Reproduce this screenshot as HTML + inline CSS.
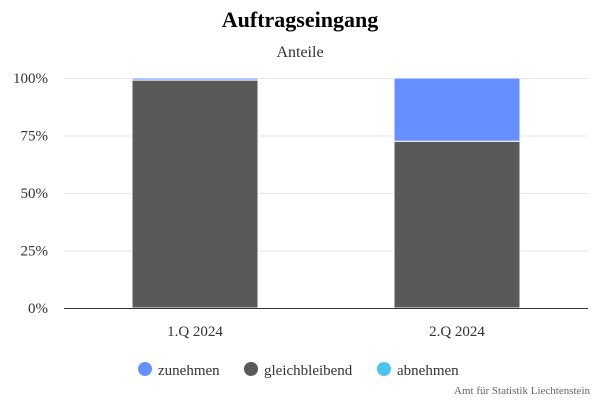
<!DOCTYPE html>
<html><head><meta charset="utf-8"><style>
body{margin:0;background:#fff;font-family:"Liberation Serif",serif;}
svg text{font-family:"Liberation Serif",serif;}
</style></head><body>
<svg width="600" height="400" viewBox="0 0 600 400">
<text x="300" y="27" text-anchor="middle" font-size="22" font-weight="bold" fill="#000">Auftragseingang</text>
<text x="300" y="57" text-anchor="middle" font-size="16" fill="#333">Anteile</text>
<g id="grid"></g>
<g id="bars"></g>
<line x1="64" x2="588" y1="308.5" y2="308.5" stroke="#333" stroke-width="1"/>
<g id="xlabels"></g>
<g>
<g><circle cx="145" cy="369" r="7" fill="#6690ff"/><text x="158" y="375" font-size="15" fill="#333">zunehmen</text></g>
<g><circle cx="251" cy="369" r="7" fill="#595959"/><text x="264" y="375" font-size="15" fill="#333">gleichbleibend</text></g>
<g><circle cx="384" cy="369" r="7" fill="#4cc3f0"/><text x="397" y="375" font-size="15" fill="#333">abnehmen</text></g>
</g>
<text x="590" y="394" text-anchor="end" font-size="11" fill="#666">Amt für Statistik Liechtenstein</text>
</svg>
<script>
const categories=["1.Q 2024","2.Q 2024"];
const gleichbleibend=[99.1,72.5];
const zunehmen=[0.9,27.5];
const abnehmen=[0,0];
const yTicks=[0,25,50,75,100];
const NS="http://www.w3.org/2000/svg";
const x0=64,x1=588,yB=308,yT=78;
const y=v=>yB-(yB-yT)*v/100;
const band=(x1-x0)/categories.length;
const bw=126;
const grid=document.getElementById('grid'),bars=document.getElementById('bars'),xl=document.getElementById('xlabels');
function mk(t,a){const e=document.createElementNS(NS,t);for(const k in a)e.setAttribute(k,a[k]);return e;}
yTicks.forEach(t=>{
 const l=mk('line',{x1:x0,x2:x1,y1:y(t)+0.5,y2:y(t)+0.5,stroke:'#e6e6e6'});
 
 
 grid.appendChild(l);
 const tx=mk('text',{x:48,y:y(t)+5,'text-anchor':'end','font-size':15,fill:'#333'});
 tx.textContent=t+'%';
 
 
 grid.appendChild(tx);
});
const series=[["gleichbleibend",gleichbleibend,"#595959"],["zunehmen",zunehmen,"#6690ff"],["abnehmen",abnehmen,"#4cc3f0"]];
categories.forEach((c,i)=>{
 const cx=x0+band*(i+0.5);
 let acc=0;
 series.forEach(([n,vals,col])=>{
  const v=vals[i];if(v<=0)return;
  const top=y(acc+v),bot=y(acc);acc+=v;
  const r=mk('rect',{x:cx-bw/2,y:top,width:bw,height:bot-top,fill:col,stroke:'#fff','stroke-width':1});
  
  
  bars.appendChild(r);
 });
 const t=mk('text',{x:cx,y:336,'text-anchor':'middle','font-size':15,fill:'#333'});
 t.textContent=c;
 
 
 xl.appendChild(t);
});
</script>
</body></html>
